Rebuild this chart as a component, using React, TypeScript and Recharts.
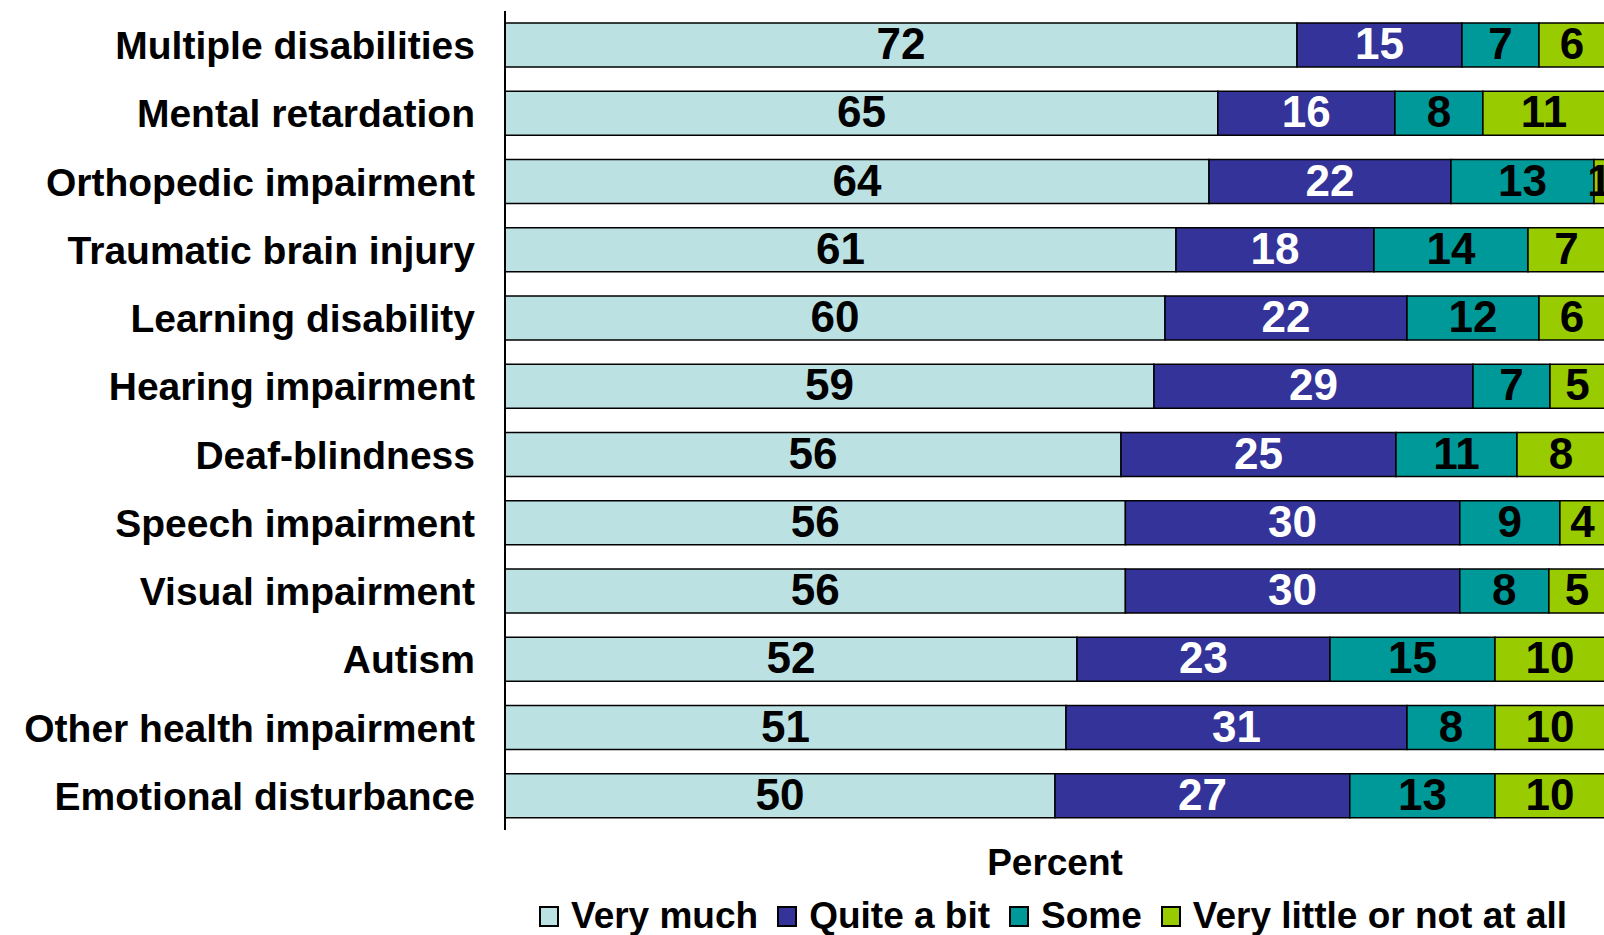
import React from "react";
import {
  BarChart,
  Bar,
  XAxis,
  YAxis,
  Legend,
  LabelList,
} from "recharts";

const categories = [
  "Multiple disabilities",
  "Mental retardation",
  "Orthopedic impairment",
  "Traumatic brain injury",
  "Learning disability",
  "Hearing impairment",
  "Deaf-blindness",
  "Speech impairment",
  "Visual impairment",
  "Autism",
  "Other health impairment",
  "Emotional disturbance",
];

const veryMuch = [72, 64.8, 64, 61, 60, 59, 56, 56.4, 56.4, 52, 51, 50];
const quiteABit = [15, 16.1, 22, 18, 22, 29, 25, 30.4, 30.4, 23, 31, 26.8];
const some = [7, 8, 13, 14, 12, 7, 11, 9.1, 8.1, 15, 8, 13.2];
const veryLittle = [6, 11.1, 1, 7, 6, 5, 8, 4.1, 5.1, 10, 10, 10];

const seriesNames = ["Very much", "Quite a bit", "Some", "Very little or not at all"];
const seriesKeys = ["veryMuch", "quiteABit", "some", "veryLittle"];
const seriesColors = ["#BCE1E3", "#333399", "#009999", "#99CC00"];
const labelColors = ["#000", "#fff", "#000", "#000"];

const data = categories.map((name, i) => ({
  name,
  veryMuch: veryMuch[i],
  quiteABit: quiteABit[i],
  some: some[i],
  veryLittle: veryLittle[i],
}));

const FONT = '"Liberation Sans", Arial, Helvetica, sans-serif';

function CategoryTick(props: any) {
  const { x, y, payload } = props;
  return (
    <text
      x={x}
      y={y + 14}
      textAnchor="end"
      fontFamily={FONT}
      fontWeight="bold"
      fontSize={39}
      fill="#000"
    >
      {payload.value}
    </text>
  );
}

function makeValueLabel(color: string) {
  return (props: any) => {
    const { x, y, width, height, value } = props;
    return (
      <text
        x={x + width / 2}
        y={y + height / 2 + 14}
        textAnchor="middle"
        fontFamily={FONT}
        fontWeight="bold"
        fontSize={44}
        fill={color}
      >
        {Math.round(value)}
      </text>
    );
  };
}

function PercentLabel(props: any) {
  const { viewBox } = props;
  return (
    <text
      x={viewBox.x + viewBox.width / 2}
      y={viewBox.y + 45}
      textAnchor="middle"
      fontFamily={FONT}
      fontWeight="bold"
      fontSize={37}
      fill="#000"
    >
      Percent
    </text>
  );
}

function LegendBox() {
  return (
    <div
      style={{
        display: "flex",
        alignItems: "center",
        height: 42,
        lineHeight: "42px",
        fontFamily: FONT,
        fontWeight: "bold",
        fontSize: 37,
        color: "#000",
        whiteSpace: "nowrap",
        transform: "translateY(2px)",
      }}
    >
      {seriesNames.map((name, i) => (
        <div key={name} style={{ display: "flex", alignItems: "center", marginRight: 19 }}>
          <span
            style={{
              display: "inline-block",
              width: 20,
              height: 21,
              boxSizing: "border-box",
              border: "2px solid #000",
              background: seriesColors[i],
              marginRight: 12,
            }}
          />
          <span>{name}</span>
        </div>
      ))}
    </div>
  );
}

export default function App() {
  return (
    <div
      style={{
        position: "absolute",
        left: 0,
        top: 0,
        width: 1604,
        height: 935,
        overflow: "hidden",
        background: "#fff",
      }}
    >
      <BarChart
        width={1610}
        height={935}
        data={data}
        layout="vertical"
        margin={{ top: 11, right: 5, left: 0, bottom: 0 }}
        barSize={44}
      >
        <XAxis
          type="number"
          domain={[0, 100]}
          axisLine={false}
          tickLine={false}
          tick={false}
          height={63}
          label={<PercentLabel />}
        />
        <YAxis
          type="category"
          dataKey="name"
          width={505}
          axisLine={{ stroke: "#000", strokeWidth: 2 }}
          tickLine={false}
          tickSize={0}
          tickMargin={30}
          tick={<CategoryTick />}
          interval={0}
        />
        <Legend
          verticalAlign="bottom"
          content={<LegendBox />}
          wrapperStyle={{ left: 539, width: 1065 }}
        />
        {seriesKeys.map((key, i) => (
          <Bar
            key={key}
            dataKey={key}
            name={seriesNames[i]}
            stackId="a"
            fill={seriesColors[i]}
            stroke="#000"
            strokeWidth={1.5}
            isAnimationActive={false}
          >
            <LabelList dataKey={key} content={makeValueLabel(labelColors[i])} />
          </Bar>
        ))}
      </BarChart>
    </div>
  );
}
